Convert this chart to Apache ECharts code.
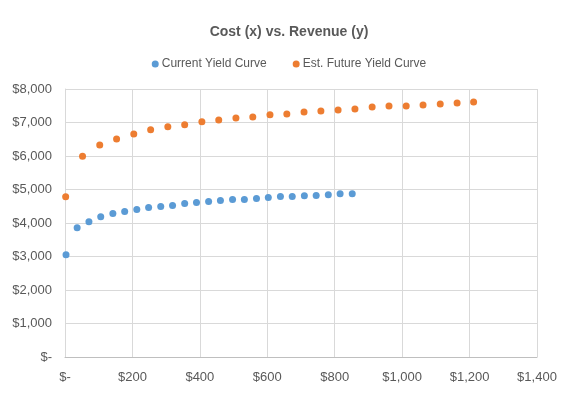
<!DOCTYPE html>
<html>
<head>
<meta charset="utf-8">
<script src="https://cdn.jsdelivr.net/npm/echarts@6/dist/echarts.min.js"></script>
<style>html,body{margin:0;padding:0;background:#fff;}#c{width:578px;height:399px;}</style>
</head>
<body>
<div id="c"></div>
<script>
var titleText = 'Cost (x) vs. Revenue (y)';
var seriesNames = ['Current Yield Curve', 'Est. Future Yield Curve'];
var currentX = [3, 36, 71, 106, 142, 177, 213, 248, 284, 319, 355, 390, 426, 461, 497, 532, 568, 603, 639, 674, 710, 745, 781, 816, 852];
var currentY = [3050, 3860, 4040, 4190, 4280, 4340, 4400, 4460, 4490, 4520, 4580, 4610, 4640, 4670, 4700, 4700, 4730, 4760, 4790, 4790, 4815, 4820, 4845, 4870, 4875];
var futureX = [2, 52, 103, 153, 204, 254, 305, 355, 406, 456, 507, 557, 608, 658, 709, 759, 810, 860, 911, 961, 1012, 1062, 1113, 1163, 1212];
var futureY = [4785, 5995, 6330, 6510, 6660, 6780, 6870, 6930, 7020, 7075, 7135, 7165, 7235, 7255, 7315, 7345, 7375, 7405, 7465, 7495, 7495, 7525, 7550, 7580, 7610];

function zip(xs, ys) { return xs.map(function (x, i) { return [x, ys[i]]; }); }
function money(v) { return v === 0 ? '$-' : '$' + v.toLocaleString('en-US'); }

var font = 'Liberation Sans, Arial, sans-serif';
var chart = echarts.init(document.getElementById('c'), null, { renderer: 'canvas' });
chart.setOption({
  animation: false,
  backgroundColor: '#ffffff',
  color: ['#5B9BD5', '#ED7D31'],
  title: {
    text: titleText, left: 'center', top: 20,
    textStyle: { fontFamily: font, fontSize: 14, fontWeight: 'bold', color: '#595959' }
  },
  legend: {
    top: 53, left: 'center', icon: 'circle', itemWidth: 7, itemHeight: 7, itemGap: 26,
    textStyle: { fontFamily: font, fontSize: 12, color: '#595959', padding: [0, 0, 0, -2] },
    data: seriesNames
  },
  grid: { left: 65, right: 41, top: 89, bottom: 42, containLabel: false },
  xAxis: {
    type: 'value', min: 0, max: 1400, interval: 200,
    axisLine: { show: true, lineStyle: { color: '#BFBFBF' } },
    axisTick: { show: false },
    axisLabel: { formatter: money, fontFamily: font, fontSize: 13, color: '#595959', margin: 14 },
    splitLine: { show: true, lineStyle: { color: '#D9D9D9' } }
  },
  yAxis: {
    type: 'value', min: 0, max: 8000, interval: 1000,
    axisLine: { show: true, lineStyle: { color: '#D9D9D9' } },
    axisTick: { show: false },
    axisLabel: { formatter: money, fontFamily: font, fontSize: 13, color: '#595959', margin: 13 },
    splitLine: { show: true, lineStyle: { color: '#D9D9D9' } }
  },
  series: [
    { name: seriesNames[0], type: 'scatter', symbolSize: 7, itemStyle: { opacity: 1 }, data: zip(currentX, currentY) },
    { name: seriesNames[1], type: 'scatter', symbolSize: 7, itemStyle: { opacity: 1 }, data: zip(futureX, futureY) }
  ]
});
</script>
</body>
</html>
